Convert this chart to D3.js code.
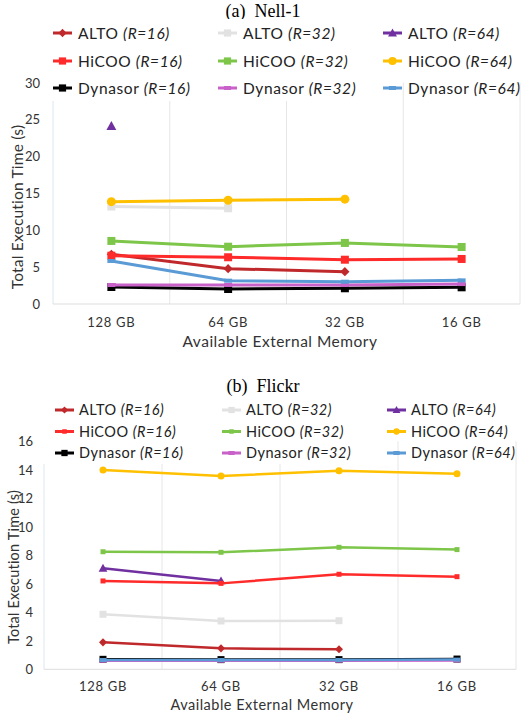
<!DOCTYPE html>
<html><head><meta charset="utf-8">
<script src="https://cdn.jsdelivr.net/npm/d3@7"></script>
<style>body{margin:0;background:#fff}svg{display:block}</style>
</head><body>
<svg id="c" width="526" height="715"></svg>
<script>
// ---- data ----
const categories = ["128 GB", "64 GB", "32 GB", "16 GB"];
const seriesMethods = ["ALTO", "ALTO", "ALTO", "HiCOO", "HiCOO", "HiCOO", "Dynasor", "Dynasor", "Dynasor"];
const seriesRanks = ["(R=16)", "(R=32)", "(R=64)", "(R=16)", "(R=32)", "(R=64)", "(R=16)", "(R=32)", "(R=64)"];
const nellTitle = "(a)  Nell-1";
const flickrTitle = "(b)  Flickr";
const nellTicks = [0, 5, 10, 15, 20, 25, 30];
const flickrTicks = [0, 2, 4, 6, 8, 10, 12, 14, 16];
const nellValues = [
  [6.73, 4.78, 4.38, null],
  [13.2, 12.97, null, null],
  [24.1, null, null, null],
  [6.54, 6.33, 6.0, 6.1],
  [8.54, 7.76, 8.27, 7.72],
  [13.86, 14.05, 14.2, null],
  [2.3, 2.03, 2.13, 2.26],
  [2.57, 2.57, 2.57, 2.7],
  [5.83, 3.16, 3.02, 3.2]
];
const flickrValues = [
  [1.89, 1.47, 1.4, null],
  [3.86, 3.39, 3.41, null],
  [7.09, 6.2, null, null],
  [6.2, 6.03, 6.67, 6.5],
  [8.25, 8.21, 8.56, 8.4],
  [13.98, 13.56, 13.94, 13.73],
  [0.7, 0.68, 0.68, 0.72],
  [0.6, 0.6, 0.6, 0.62],
  [0.65, 0.65, 0.65, 0.68]
];
const yTitle = "Total Execution Time (s)";
const xTitle = "Available External Memory";

// ---- styles ----
const colors = ["#C0292B", "#E2E2E2", "#7030A0", "#FF2A2A", "#7DC64A", "#FFC000", "#000000", "#C862C8", "#5B9BD5"];
const shapesTop = [["diamond",8],["square",8],["triangle",9],["square",8],["square",8],["circle",9],["square",8],["dash",8],["dash",8]];
const shapesBot = [["diamond",7],["square",7],["triangle",8],["square",5],["square",5],["circle",7],["square",7],["dash",7],["dash",7]];

function markerPath(shape, s) {
  const h = s / 2;
  switch (shape) {
    case "square": return `M${-h},${-h}h${s}v${s}h${-s}Z`;
    case "diamond": return `M0,${-h*1.15}L${h*1.15},0L0,${h*1.15}L${-h*1.15},0Z`;
    case "triangle": return `M0,${-h*1.1}L${h*1.1},${h*0.85}L${-h*1.1},${h*0.85}Z`;
    case "circle": return `M${h},0A${h},${h},0,1,1,${-h},0A${h},${h},0,1,1,${h},0Z`;
    case "dash": return `M${-h},-2h${s}v4h${-s}Z`;
  }
}

const svg = d3.select("#c");
const SANS = "Lato, 'Open Sans', sans-serif";

function drawChart(cfg) {
  const g = svg.append("g");
  const x = d3.scaleBand().domain(categories).range([cfg.x0, cfg.x1]);
  const y = d3.scaleLinear().domain([0, cfg.ymax]).range([cfg.y0, cfg.ytop]);

  // title
  g.append("text").attr("x", 263).attr("y", cfg.titleY).attr("text-anchor", "middle")
    .attr("font-family", "'Liberation Serif', 'Times New Roman', serif").attr("font-size", 18)
    .attr("xml:space", "preserve").style("white-space", "pre").text(cfg.title);

  // grid: category boundaries
  const bounds = categories.map(c => x(c)).concat([cfg.x1]);
  g.selectAll(".vg").data(bounds.slice(1)).join("line")
    .attr("x1", d => d).attr("x2", d => d).attr("y1", y(cfg.ymax)).attr("y2", y(0))
    .attr("stroke", "#E6E6E6").attr("stroke-width", 1);
  // left edge
  g.append("line").attr("x1", cfg.x0).attr("x2", cfg.x0).attr("y1", y(cfg.ymax)).attr("y2", y(0))
    .attr("stroke", "#DCE6EE").attr("stroke-width", 1);
  // baseline
  g.append("line").attr("x1", cfg.x0).attr("x2", cfg.x1).attr("y1", y(0)).attr("y2", y(0))
    .attr("stroke", "#DDDDDD").attr("stroke-width", 1);

  // y ticks
  const ya = d3.axisLeft(y).tickValues(cfg.ticks).tickSize(0).tickPadding(0);
  const yg = g.append("g").attr("transform", `translate(${cfg.yLabelX},0)`).call(ya);
  yg.select(".domain").remove();
  yg.selectAll("text").attr("font-family", SANS).attr("font-size", 13).attr("fill", "#333").attr("dy", "0.35em");

  // x ticks
  const xa = d3.axisBottom(x).tickSize(0).tickPadding(0);
  const xg = g.append("g").attr("transform", `translate(0,${cfg.xLabelY})`).call(xa);
  xg.select(".domain").remove();
  xg.selectAll("text").attr("font-family", SANS).attr("font-size", 13).attr("fill", "#333")
    .attr("dy", 0).attr("letter-spacing", "0.7px");

  // axis titles
  g.append("text").attr("transform", `translate(${cfg.yTitleX},${cfg.yTitleY}) rotate(-90)`)
    .attr("text-anchor", "middle").attr("font-family", SANS).attr("font-size", cfg.titleFont)
    .attr("letter-spacing", "0.2px").attr("fill", "#333").text(yTitle);
  g.append("text").attr("x", cfg.xTitleX).attr("y", cfg.xTitleY).attr("text-anchor", "middle")
    .attr("font-family", SANS).attr("font-size", cfg.titleFont).attr("letter-spacing", "0.5px")
    .attr("fill", "#333").text(xTitle);

  // legend background
  g.append("rect").attr("x", cfg.x0 - 10).attr("y", cfg.legY[0] - 14).attr("width", 395 - cfg.x0 + 8)
    .attr("height", cfg.legBgBottom - cfg.legY[0] + 14).attr("fill", "#fff");

  // series
  const line = d3.line().defined(d => d.v != null).x(d => x(d.c) + x.bandwidth() / 2).y(d => y(d.v));
  cfg.values.forEach((vals, i) => {
    const pts = vals.map((v, j) => ({ c: categories[j], v }));
    g.append("path").datum(pts).attr("d", line).attr("fill", "none")
      .attr("stroke", colors[i]).attr("stroke-width", cfg.lw).attr("stroke-linejoin", "round");
    g.selectAll(null).data(pts.filter(d => d.v != null)).join("path")
      .attr("transform", d => `translate(${x(d.c) + x.bandwidth() / 2},${y(d.v)})`)
      .attr("d", markerPath(cfg.shapes[i][0], cfg.shapes[i][1])).attr("fill", colors[i]);
  });

  // legend
  seriesMethods.forEach((m, i) => {
    const col = i % 3, row = Math.floor(i / 3);
    const lx = cfg.legX[col], ly = cfg.legY[row];
    const lg = g.append("g").attr("transform", `translate(${lx},${ly})`);
    lg.append("line").attr("x1", 0).attr("x2", 19).attr("y1", 0).attr("y2", 0)
      .attr("stroke", colors[i]).attr("stroke-width", 3);
    lg.append("path").attr("transform", "translate(9.5,0)")
      .attr("d", markerPath(cfg.shapes[i][0], cfg.shapes[i][1] * 0.9)).attr("fill", colors[i]);
    const t = lg.append("text").attr("x", cfg.legTextDx).attr("y", 0).attr("dy", "0.36em")
      .attr("font-family", SANS).attr("font-size", cfg.legFont).attr("letter-spacing", cfg.legSpacing)
      .attr("fill", "#222");
    t.append("tspan").text(m + " ");
    t.append("tspan").attr("font-style", "italic").text(seriesRanks[i]);
  });
}

drawChart({
  title: nellTitle, titleY: 17, values: nellValues, ticks: nellTicks, ymax: 30,
  x0: 53, x1: 520, y0: 304, ytop: 82.5, yLabelX: 40, xLabelY: 327,
  yTitleX: 23, yTitleY: 207, xTitleX: 280, xTitleY: 347, titleFont: 15.5,
  legX: [53, 218, 383], legY: [33, 61, 88], legTextDx: 25, legFont: 15.5, legSpacing: "0.6px", legBgBottom: 101,
  shapes: shapesTop, lw: 3
});
drawChart({
  title: flickrTitle, titleY: 392, values: flickrValues, ticks: flickrTicks, ymax: 16,
  x0: 44, x1: 516, y0: 669.3, ytop: 441.3, yLabelX: 33, xLabelY: 691,
  yTitleX: 19, yTitleY: 567, xTitleX: 262, xTitleY: 710, titleFont: 14.5,
  legX: [55, 222, 387], legY: [410, 431.5, 453], legTextDx: 24, legFont: 14.5, legSpacing: "0.5px", legBgBottom: 464,
  shapes: shapesBot, lw: 2.5
});
</script>
</body></html>
